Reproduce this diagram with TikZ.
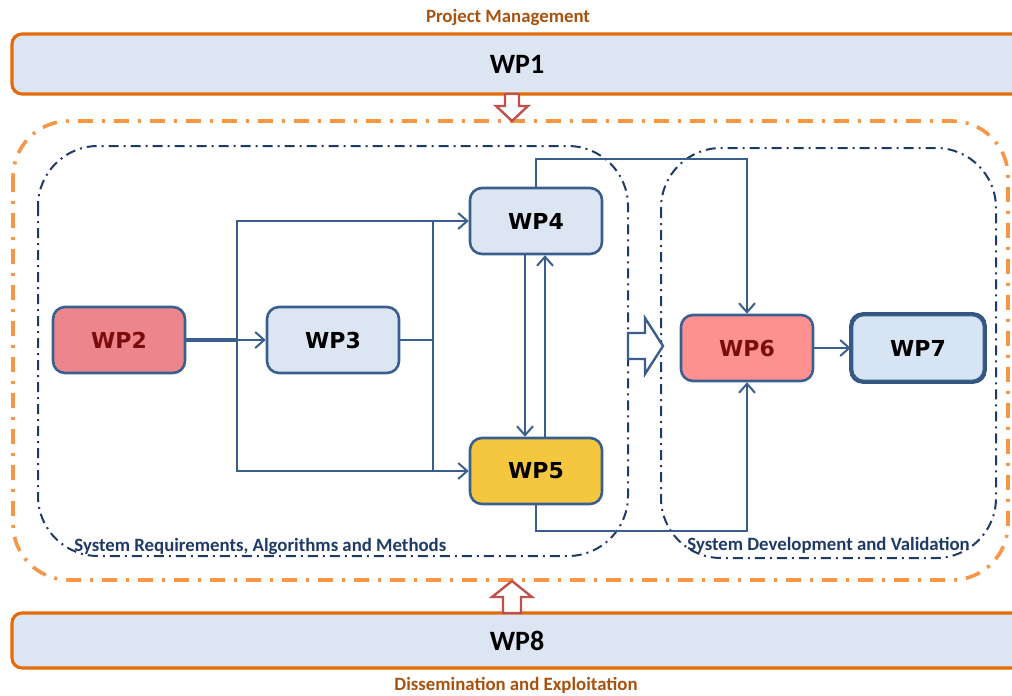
\documentclass[tikz,border=0pt]{standalone}
\usepackage{fontspec}
\setmainfont{Carlito}
\newfontfamily\boxfont{DejaVu Sans}
\usepackage{xcolor}
\usepackage{tikz}
\usetikzlibrary{positioning,calc,arrows.meta}

\definecolor{wpblue}{HTML}{3A5F8F}
\definecolor{wpfill}{HTML}{DCE6F2}
\definecolor{wpfilltwo}{HTML}{D6E4F4}
\definecolor{barorange}{HTML}{E46C0A}
\definecolor{outerorange}{HTML}{F79646}
\definecolor{pmbrown}{HTML}{A8520F}
\definecolor{groupblue}{HTML}{1F3A66}
\definecolor{wpred}{HTML}{EC858C}
\definecolor{wppink}{HTML}{FF9090}
\definecolor{wpyellow}{HTML}{F5C73F}
\definecolor{darkred}{HTML}{7A0C0C}
\definecolor{redarrow}{HTML}{C0504D}

\begin{document}
\begin{tikzpicture}[x=0.5pt,y=-0.5pt,
  bar/.style={draw=barorange,line width=1.6pt,fill=wpfill,rounded corners=5pt,minimum width=505pt,minimum height=30pt,font=\bfseries\fontsize{14}{16}\selectfont},
  wp/.style={draw=wpblue,line width=1.3pt,rounded corners=6pt,minimum width=66pt,minimum height=33pt,font=\boxfont\bfseries\fontsize{11}{13}\selectfont},
  conn/.style={wpblue,line width=1pt},
  arr/.style={-{Straight Barb[length=4.5pt,width=8pt]}},
  group/.style={draw=groupblue,line width=1pt,dash pattern=on 5pt off 2.5pt on 1pt off 2.5pt,rounded corners=30pt},
  outer/.style={draw=outerorange,line width=1.8pt,dash pattern=on 7.5pt off 4.5pt on 1.5pt off 4.5pt,rounded corners=28pt},
  grouplabel/.style={text=groupblue,font=\bfseries\fontsize{9.4}{11}\selectfont,inner sep=0pt},
  barlabel/.style={text=pmbrown,font=\bfseries\fontsize{9.4}{11}\selectfont},
  hollow/.style={fill=white,line width=1.2pt,line join=miter}]

\useasboundingbox (0,0) rectangle (1012,696);

\draw[outer] (13,121) rectangle (1008,580);
\draw[group] (38,146) rectangle (628,556);
\draw[group] (661,148) rectangle (996,558);

\node[bar] (wp1) at (517,64) {WP1};
\node[bar,minimum height=27.5pt] (wp8) at (517,640.5) {WP8};
\node[barlabel] (pm) at (508,17) {Project Management};
\node[barlabel] (de) at (516,685) {Dissemination and Exploitation};

\node[grouplabel,anchor=west] (sram) at (74,546) {System Requirements, Algorithms and Methods};
\node[grouplabel,anchor=west] (sdv) at (687,545) {System Development and Validation};

\foreach \n/\x/\y/\f/\t in {2/119/340/wpred/darkred,3/333/340/wpfill/black,4/536/221/wpfill/black,5/536/471/wpyellow/black,6/747/348/wppink/darkred,7/918/348/wpfilltwo/black}
  \node[wp,fill=\f,text=\t] (wp\n) at (\x,\y) {WP\n};
\draw[draw=wpblue!90!black,line width=1.5pt,rounded corners=6pt] (wp7.south west) rectangle (wp7.north east);

\draw[hollow,draw=redarrow] (505,94) -- ++(14,0) -- ++(0,12) -- ++(9,0) -- ++(-16,15) -- ++(-16,-15) -- ++(9,0) -- cycle;
\draw[hollow,draw=redarrow] (503,613) -- ++(18,0) -- ++(0,-16) -- ++(11,0) -- ++(-20,-16) -- ++(-20,16) -- ++(11,0) -- cycle;
\draw[hollow,draw=wpblue] (628,333) -- ++(17,0) -- ++(0,-15) -- ++(18,28) -- ++(-18,28) -- ++(0,-15) -- ++(-17,0) -- cycle;

\coordinate (j1) at (237,340);
\coordinate (j2) at (433,340);
\draw[conn,line width=1.6pt] (wp2.east) -- (j1);
\draw[conn,arr] (j1) -- (wp3.west);
\draw[conn,arr] (j1) |- (wp4.west);
\draw[conn,arr] (j1) |- (wp5.west);
\draw[conn] (wp3.east) -- (j2);
\draw[conn] (j2 |- wp4.west) -- (j2 |- wp5.west);
\draw[conn,arr] ($(wp4.south)+(-11,0)$) -- ($(wp5.north)+(-11,0)$);
\draw[conn,arr] ($(wp5.north)+(9,0)$) -- ($(wp4.south)+(9,0)$);
\draw[conn,arr] (wp4.north) -- ++(0,-28) -| (wp6.north);
\draw[conn,arr] (wp5.south) -- ++(0,26) -| (wp6.south);
\draw[conn,arr] (wp6.east) -- (wp7.west);
\end{tikzpicture}
\end{document}
